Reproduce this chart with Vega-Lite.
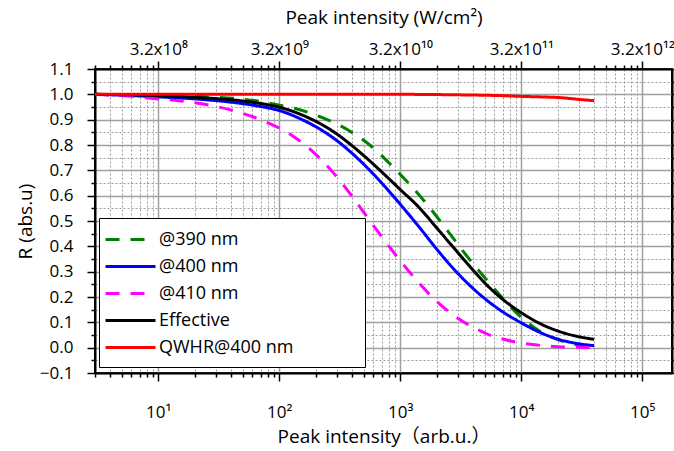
{
  "$schema": "https://vega.github.io/schema/vega-lite/v6.json",
  "width": 577,
  "height": 304,
  "autosize": {"type": "none"},
  "padding": {"left": 95, "top": 69, "right": 2, "bottom": 78},
  "background": "white",
  "config": {
    "font": "Open Sans",
    "view": {"stroke": "black", "strokeWidth": 2},
    "axis": {
      "labelColor": "black",
      "titleColor": "black",
      "titleFontWeight": "normal",
      "labelFont": "Open Sans",
      "titleFont": "Open Sans, Noto Sans CJK SC",
      "labelFontSize": 17,
      "titleFontSize": 19,
      "domainColor": "black",
      "domainWidth": 2,
      "tickColor": "black",
      "tickWidth": 1.5,
      "labelOverlap": false,
      "labelFlush": false,
      "labelBound": false
    },
    "legend": {
      "orient": "none",
      "legendX": 4,
      "legendY": 149,
      "strokeColor": "black",
      "fillColor": "white",
      "padding": 10,
      "symbolType": "M-2.5,0H2.5",
      "symbolSize": 400,
      "symbolStrokeWidth": 3,
      "symbolOffset": 10,
      "labelFontSize": 18,
      "labelFont": "Open Sans",
      "labelColor": "black",
      "labelOffset": 17,
      "rowPadding": 6,
      "labelLimit": 600
    }
  },
  "data": {
    "values": [
      {"s": "@390 nm", "x": 3, "r": 1.0},
      {"s": "@390 nm", "x": 10, "r": 0.997},
      {"s": "@390 nm", "x": 20, "r": 0.992},
      {"s": "@390 nm", "x": 47, "r": 0.982},
      {"s": "@390 nm", "x": 73, "r": 0.97},
      {"s": "@390 nm", "x": 100, "r": 0.957},
      {"s": "@390 nm", "x": 140, "r": 0.942},
      {"s": "@390 nm", "x": 230, "r": 0.907},
      {"s": "@390 nm", "x": 370, "r": 0.859},
      {"s": "@390 nm", "x": 570, "r": 0.797},
      {"s": "@390 nm", "x": 840, "r": 0.721},
      {"s": "@390 nm", "x": 1230, "r": 0.638},
      {"s": "@390 nm", "x": 1700, "r": 0.56},
      {"s": "@390 nm", "x": 2430, "r": 0.465},
      {"s": "@390 nm", "x": 3300, "r": 0.381},
      {"s": "@390 nm", "x": 4000, "r": 0.331},
      {"s": "@390 nm", "x": 4700, "r": 0.291},
      {"s": "@390 nm", "x": 6700, "r": 0.206},
      {"s": "@390 nm", "x": 7600, "r": 0.177},
      {"s": "@390 nm", "x": 10000, "r": 0.12},
      {"s": "@390 nm", "x": 14300, "r": 0.064},
      {"s": "@390 nm", "x": 20000, "r": 0.032},
      {"s": "@390 nm", "x": 27000, "r": 0.014},
      {"s": "@390 nm", "x": 40000, "r": 0.004},
      {"s": "@400 nm", "x": 3, "r": 1.0},
      {"s": "@400 nm", "x": 6, "r": 0.995},
      {"s": "@400 nm", "x": 10, "r": 0.99},
      {"s": "@400 nm", "x": 20, "r": 0.982},
      {"s": "@400 nm", "x": 40, "r": 0.969},
      {"s": "@400 nm", "x": 70, "r": 0.952},
      {"s": "@400 nm", "x": 100, "r": 0.936},
      {"s": "@400 nm", "x": 150, "r": 0.903},
      {"s": "@400 nm", "x": 230, "r": 0.855},
      {"s": "@400 nm", "x": 300, "r": 0.817},
      {"s": "@400 nm", "x": 400, "r": 0.767},
      {"s": "@400 nm", "x": 560, "r": 0.7},
      {"s": "@400 nm", "x": 750, "r": 0.635},
      {"s": "@400 nm", "x": 1000, "r": 0.566},
      {"s": "@400 nm", "x": 1450, "r": 0.473},
      {"s": "@400 nm", "x": 2000, "r": 0.389},
      {"s": "@400 nm", "x": 2700, "r": 0.316},
      {"s": "@400 nm", "x": 3550, "r": 0.257},
      {"s": "@400 nm", "x": 4300, "r": 0.22},
      {"s": "@400 nm", "x": 5200, "r": 0.187},
      {"s": "@400 nm", "x": 6700, "r": 0.148},
      {"s": "@400 nm", "x": 10000, "r": 0.098},
      {"s": "@400 nm", "x": 14300, "r": 0.06},
      {"s": "@400 nm", "x": 20000, "r": 0.034},
      {"s": "@400 nm", "x": 27000, "r": 0.019},
      {"s": "@400 nm", "x": 40000, "r": 0.008},
      {"s": "@410 nm", "x": 3, "r": 1.0},
      {"s": "@410 nm", "x": 6, "r": 0.992},
      {"s": "@410 nm", "x": 10, "r": 0.982},
      {"s": "@410 nm", "x": 16, "r": 0.973},
      {"s": "@410 nm", "x": 28, "r": 0.955},
      {"s": "@410 nm", "x": 46, "r": 0.93},
      {"s": "@410 nm", "x": 76, "r": 0.893},
      {"s": "@410 nm", "x": 100, "r": 0.867},
      {"s": "@410 nm", "x": 130, "r": 0.835},
      {"s": "@410 nm", "x": 170, "r": 0.793},
      {"s": "@410 nm", "x": 200, "r": 0.763},
      {"s": "@410 nm", "x": 280, "r": 0.69},
      {"s": "@410 nm", "x": 400, "r": 0.597},
      {"s": "@410 nm", "x": 510, "r": 0.528},
      {"s": "@410 nm", "x": 700, "r": 0.439},
      {"s": "@410 nm", "x": 1000, "r": 0.343},
      {"s": "@410 nm", "x": 1400, "r": 0.26},
      {"s": "@410 nm", "x": 1860, "r": 0.197},
      {"s": "@410 nm", "x": 2130, "r": 0.171},
      {"s": "@410 nm", "x": 2700, "r": 0.131},
      {"s": "@410 nm", "x": 3550, "r": 0.094},
      {"s": "@410 nm", "x": 4000, "r": 0.081},
      {"s": "@410 nm", "x": 5800, "r": 0.045},
      {"s": "@410 nm", "x": 7600, "r": 0.03},
      {"s": "@410 nm", "x": 10000, "r": 0.018},
      {"s": "@410 nm", "x": 14300, "r": 0.009},
      {"s": "@410 nm", "x": 20000, "r": 0.004},
      {"s": "@410 nm", "x": 27000, "r": 0.002},
      {"s": "@410 nm", "x": 40000, "r": 0.001},
      {"s": "Effective", "x": 3, "r": 1.0},
      {"s": "Effective", "x": 10, "r": 0.995},
      {"s": "Effective", "x": 20, "r": 0.988},
      {"s": "Effective", "x": 47, "r": 0.975},
      {"s": "Effective", "x": 84, "r": 0.957},
      {"s": "Effective", "x": 100, "r": 0.949},
      {"s": "Effective", "x": 157, "r": 0.917},
      {"s": "Effective", "x": 230, "r": 0.878},
      {"s": "Effective", "x": 300, "r": 0.843},
      {"s": "Effective", "x": 400, "r": 0.797},
      {"s": "Effective", "x": 560, "r": 0.737},
      {"s": "Effective", "x": 750, "r": 0.681},
      {"s": "Effective", "x": 1000, "r": 0.624},
      {"s": "Effective", "x": 1400, "r": 0.558},
      {"s": "Effective", "x": 2100, "r": 0.461},
      {"s": "Effective", "x": 2700, "r": 0.4},
      {"s": "Effective", "x": 4000, "r": 0.306},
      {"s": "Effective", "x": 5200, "r": 0.247},
      {"s": "Effective", "x": 6400, "r": 0.207},
      {"s": "Effective", "x": 7600, "r": 0.178},
      {"s": "Effective", "x": 10000, "r": 0.138},
      {"s": "Effective", "x": 14300, "r": 0.095},
      {"s": "Effective", "x": 20000, "r": 0.066},
      {"s": "Effective", "x": 27000, "r": 0.048},
      {"s": "Effective", "x": 40000, "r": 0.033},
      {"s": "QWHR@400 nm", "x": 3, "r": 1.0},
      {"s": "QWHR@400 nm", "x": 1000, "r": 1.0},
      {"s": "QWHR@400 nm", "x": 3000, "r": 0.998},
      {"s": "QWHR@400 nm", "x": 6700, "r": 0.995},
      {"s": "QWHR@400 nm", "x": 10000, "r": 0.992},
      {"s": "QWHR@400 nm", "x": 14000, "r": 0.99},
      {"s": "QWHR@400 nm", "x": 21000, "r": 0.987},
      {"s": "QWHR@400 nm", "x": 30000, "r": 0.98},
      {"s": "QWHR@400 nm", "x": 40000, "r": 0.975}
    ]
  },
  "resolve": {"axis": {"x": "independent", "y": "independent"}},
  "layer": [
    {
      "mark": {"type": "line", "strokeWidth": 3, "interpolate": "monotone", "clip": true},
      "encoding": {
        "x": {
          "field": "x", "type": "quantitative",
          "scale": {"type": "log", "domain": [3, 176000], "nice": false},
          "axis": {
            "orient": "bottom",
            "title": "Peak intensity（arb.u.）",
            "values": [3,4,5,6,7,8,9,10,20,30,40,50,60,70,80,90,100,200,300,400,500,600,700,800,900,1000,2000,3000,4000,5000,6000,7000,8000,9000,10000,20000,30000,40000,50000,60000,70000,80000,90000,100000],
            "labelExpr": "datum.value == 10 ? '10¹' : datum.value == 100 ? '10²' : datum.value == 1000 ? '10³' : datum.value == 10000 ? '10⁴' : datum.value == 100000 ? '10⁵' : ''",
            "grid": true,
            "gridDash": {"condition": {"test": "indexof([10,100,1000,10000,100000], datum.value) >= 0", "value": [1, 0]}, "value": [2, 2]},
            "gridColor": {"condition": {"test": "indexof([10,100,1000,10000,100000], datum.value) >= 0", "value": "#a0a0a0"}, "value": "#9a9a9a"},
            "gridWidth": {"condition": {"test": "indexof([10,100,1000,10000,100000], datum.value) >= 0", "value": 1.5}, "value": 1},
            "tickSize": {"condition": {"test": "indexof([10,100,1000,10000,100000], datum.value) >= 0", "value": 8}, "value": 4},
            "labelPadding": 23,
            "titlePadding": 7
          }
        },
        "y": {
          "field": "r", "type": "quantitative",
          "scale": {"domain": [-0.1, 1.1], "nice": false, "zero": false},
          "axis": {
            "orient": "left",
            "title": "R (abs.u)",
            "values": [-0.1,-0.05,0,0.05,0.1,0.15,0.2,0.25,0.3,0.35,0.4,0.45,0.5,0.55,0.6,0.65,0.7,0.75,0.8,0.85,0.9,0.95,1,1.05,1.1],
            "labelExpr": "abs(datum.value*10 - round(datum.value*10)) < 0.001 ? format(datum.value, '.1f') : ''",
            "grid": true,
            "gridDash": {"condition": {"test": "abs(datum.value*10 - round(datum.value*10)) < 0.001", "value": [1, 0]}, "value": [2, 2]},
            "gridColor": {"condition": {"test": "abs(datum.value*10 - round(datum.value*10)) < 0.001", "value": "#a0a0a0"}, "value": "#9a9a9a"},
            "gridWidth": {"condition": {"test": "abs(datum.value*10 - round(datum.value*10)) < 0.001", "value": 1.5}, "value": 1},
            "tickSize": {"condition": {"test": "abs(datum.value*10 - round(datum.value*10)) < 0.001", "value": 8}, "value": 4},
            "labelPadding": 14,
            "titlePadding": 4
          }
        },
        "color": {
          "field": "s", "type": "nominal",
          "scale": {"domain": ["@390 nm", "@400 nm", "@410 nm", "Effective", "QWHR@400 nm"], "range": ["#008000", "#0000ff", "#ff00ff", "#000000", "#ff0000"]},
          "legend": {"title": null, "labelExpr": "datum.label + '\u00a0\u00a0\u00a0\u00a0\u00a0\u00a0\u00a0\u00a0\u00a0\u00a0\u00a0\u00a0\u00a0\u200b'"}
        },
        "strokeDash": {
          "field": "s", "type": "nominal",
          "scale": {"domain": ["@390 nm", "@400 nm", "@410 nm", "Effective", "QWHR@400 nm"], "range": [[14, 11], [1, 0], [14, 11], [1, 0], [1, 0]]},
          "legend": {"title": null, "labelExpr": "datum.label + '\u00a0\u00a0\u00a0\u00a0\u00a0\u00a0\u00a0\u00a0\u00a0\u00a0\u00a0\u00a0\u00a0\u200b'"}
        }
      }
    },
    {
      "mark": {"type": "line", "opacity": 0},
      "encoding": {
        "x": {
          "field": "x", "type": "quantitative",
          "axis": {
            "orient": "top",
            "title": "Peak intensity (W/cm²)",
            "values": [3,4,5,6,7,8,9,10,20,30,40,50,60,70,80,90,100,200,300,400,500,600,700,800,900,1000,2000,3000,4000,5000,6000,7000,8000,9000,10000,20000,30000,40000,50000,60000,70000,80000,90000,100000],
            "labelExpr": "datum.value == 10 ? '3.2x10⁸' : datum.value == 100 ? '3.2x10⁹' : datum.value == 1000 ? '3.2x10¹⁰' : datum.value == 10000 ? '3.2x10¹¹' : datum.value == 100000 ? '3.2x10¹²' : ''",
            "grid": false,
            "tickSize": {"condition": {"test": "indexof([10,100,1000,10000,100000], datum.value) >= 0", "value": 8}, "value": 4},
            "labelPadding": 3,
            "titlePadding": 13
          }
        },
        "y": {
          "field": "r", "type": "quantitative",
          "axis": {
            "orient": "right",
            "title": null,
            "values": [-0.1,-0.05,0,0.05,0.1,0.15,0.2,0.25,0.3,0.35,0.4,0.45,0.5,0.55,0.6,0.65,0.7,0.75,0.8,0.85,0.9,0.95,1,1.05,1.1],
            "labels": false,
            "grid": false,
            "tickSize": 4
          }
        }
      }
    }
  ]
}
